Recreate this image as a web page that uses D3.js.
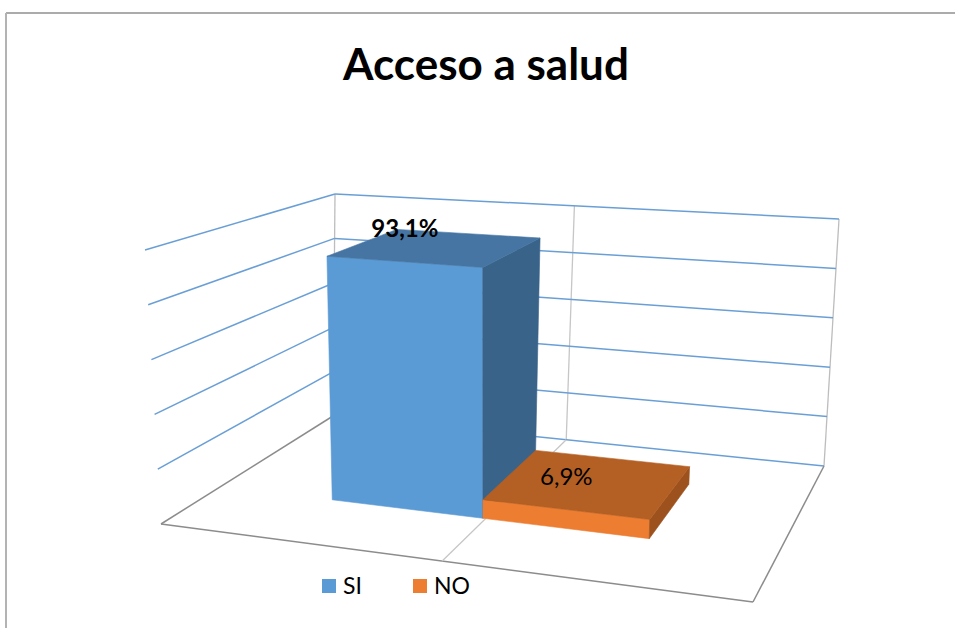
<!DOCTYPE html>
<html>
<head>
<meta charset="utf-8">
<script src="https://cdn.jsdelivr.net/npm/d3@7"></script>
<style>
  body { margin: 0; background: #fff; }
  svg { display: block; }
  .title { font-family: Lato, "Open Sans", sans-serif; font-weight: 700; font-size: 44px; }
  .label { font-family: Lato, "Open Sans", sans-serif; font-size: 24px; }
  .legend-text { font-family: Lato, "Open Sans", sans-serif; font-size: 23px; }
</style>
</head>
<body>
<div id="chart"></div>
<script>
// data
const series = ["SI", "NO"];
const values = [93.1, 6.9];
const valueLabels = ["93,1%", "6,9%"];
const valueTicks = [0, 20, 40, 60, 80, 100];
const titleText = "Acceso a salud";

const width = 955;
const height = 628;

const faceColors = {
  SI: { front: "#5b9bd5", top: "#4675a3", side: "#3a6389" },
  NO: { front: "#ed7d31", top: "#b45f24", side: "#9d521e" }
};
const gridColor = "#6a9fd6";

// screen corners of the 3d box (front/back, left/right, bottom/top)
const box = {
  FLB: [161, 524], FRB: [753, 602], BLB: [333, 416], BRB: [824, 466],
  FLT: [145, 250], FRT: [761, 297], BLT: [335, 194], BRT: [839, 219]
};

// u: across, v: up, w: into the page, all 0..1
function project(u, v, w) {
  function bil(fl, fr, bl, br) {
    return [0, 1].map(function(k) {
      const front = fl[k] + (fr[k] - fl[k]) * u;
      const back = bl[k] + (br[k] - bl[k]) * u;
      return front + (back - front) * w;
    });
  }
  const b = bil(box.FLB, box.FRB, box.BLB, box.BRB);
  const t = bil(box.FLT, box.FRT, box.BLT, box.BRT);
  return [b[0] + (t[0] - b[0]) * v, b[1] + (t[1] - b[1]) * v];
}

const xBand = d3.scaleBand().domain(series).range([0.21, 0.78]).paddingInner(0);
// a little foreshortening across the floor
const xPersp = d3.scaleLinear().domain([0, 0.5, 1]).range([0, 0.475, 1]);
const y = d3.scaleLinear().domain([0, 100]).range([0, 1]);
const depth = [0.35, 0.77];

const svg = d3.select("#chart").append("svg")
  .attr("width", width)
  .attr("height", height);

// chart border
svg.append("line").attr("x1", 6).attr("x2", width).attr("y1", 13).attr("y2", 13)
  .attr("stroke", "#8f8f8f").attr("stroke-width", 1.5);
svg.append("line").attr("x1", 6).attr("x2", 6).attr("y1", 13).attr("y2", height)
  .attr("stroke", "#b3b3b3").attr("stroke-width", 2);

svg.append("text")
  .attr("class", "title")
  .attr("x", 486)
  .attr("y", 80)
  .attr("text-anchor", "middle")
  .text(titleText);

function seg(a, b, color, w) {
  svg.append("line")
    .attr("x1", a[0]).attr("y1", a[1])
    .attr("x2", b[0]).attr("y2", b[1])
    .attr("stroke", color)
    .attr("stroke-width", w);
}

// walls
const mid = xPersp(0.5);
seg(project(0, 0, 1), project(0, 1, 1), "#bdbdbd", 1.3);
seg(project(mid, 0, 1), project(mid, 1, 1), "#c6c6c6", 1.3);
seg(project(1, 0, 1), project(1, 1, 1), "#bdbdbd", 1.3);

valueTicks.forEach(function(t) {
  if (t > 0) seg(project(0, y(t), 0), project(0, y(t), 1), gridColor, 1.5);
  seg(project(0, y(t), 1), project(1, y(t), 1), gridColor, 1.5);
});

// floor
seg(project(0, 0, 0), project(0, 0, 1), "#8c8c8c", 1.5);
seg(project(0, 0, 0), project(1, 0, 0), "#8c8c8c", 1.5);
seg(project(1, 0, 0), project(1, 0, 1), "#8c8c8c", 1.5);
seg(project(mid, 0, 0), project(mid, 0, 1), "#c6c6c6", 1.3);

// bars
const poly = d3.line().curve(d3.curveLinearClosed);

series.forEach(function(s, i) {
  const u0 = xPersp(xBand(s));
  const u1 = xPersp(xBand(s) + xBand.bandwidth());
  const v = y(values[i]);
  const w0 = depth[0], w1 = depth[1];
  const c = faceColors[s];
  const faces = [
    { pts: [project(u0, 0, w0), project(u1, 0, w0), project(u1, v, w0), project(u0, v, w0)], fill: c.front },
    { pts: [project(u1, 0, w0), project(u1, 0, w1), project(u1, v, w1), project(u1, v, w0)], fill: c.side },
    { pts: [project(u0, v, w0), project(u1, v, w0), project(u1, v, w1), project(u0, v, w1)], fill: c.top }
  ];
  svg.append("g").attr("class", "bar").selectAll("path")
    .data(faces)
    .enter()
    .append("path")
    .attr("d", function(d) { return poly(d.pts); })
    .attr("fill", function(d) { return d.fill; })
    .attr("stroke", function(d) { return d.fill; })
    .attr("stroke-width", 0.6);

  const anchor = project((u0 + u1) / 2, v, w0);
  svg.append("text")
    .attr("class", "label")
    .attr("x", anchor[0])
    .attr("y", anchor[1] - 25)
    .attr("text-anchor", "middle")
    .attr("font-weight", i === 0 ? 700 : 400)
    .text(valueLabels[i]);
});

// legend
const legendX = d3.scalePoint().domain(series).range([322, 413]);
const legend = svg.selectAll(".legend-item")
  .data(series)
  .enter()
  .append("g")
  .attr("class", "legend-item")
  .attr("transform", function(d) { return "translate(" + legendX(d) + ",579)"; });

legend.append("rect")
  .attr("width", 14)
  .attr("height", 14)
  .attr("fill", function(d) { return faceColors[d].front; });

legend.append("text")
  .attr("class", "legend-text")
  .attr("x", 21)
  .attr("y", 15)
  .text(function(d) { return d; });
</script>
</body>
</html>
